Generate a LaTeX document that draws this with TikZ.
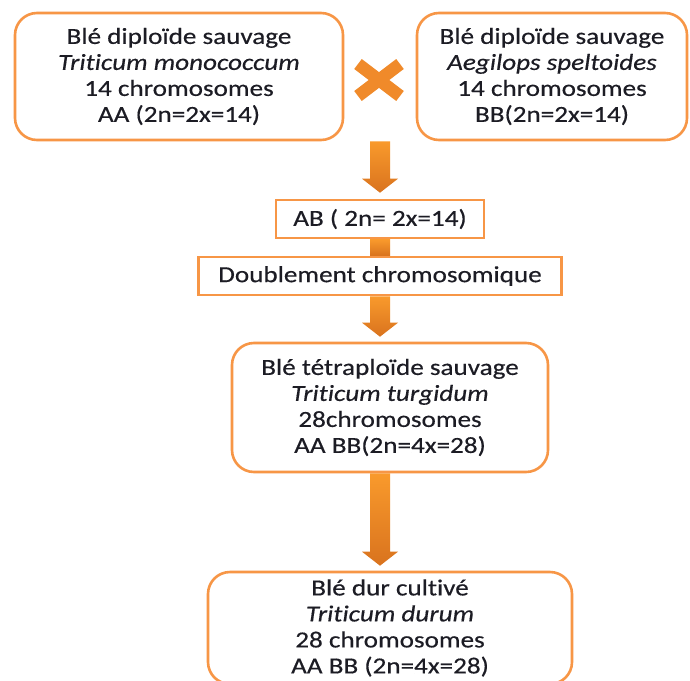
\documentclass[tikz,border=0pt]{standalone}
\usepackage{fontspec}
\setmainfont[FakeStretch=1.18, FakeBold=0.4, Ligatures=NoCommon]{Carlito}
\usetikzlibrary{calc}
\definecolor{boxorange}{HTML}{F79646}
\definecolor{arrtop}{HTML}{F99A2C}
\definecolor{arrbot}{HTML}{D9731E}
\definecolor{crosscol}{HTML}{F08A2A}
\definecolor{txt}{HTML}{1C1C24}
\newcommand\flowarrow[2]{\path[blockarrow] let \p1=#1, \p2=#2 in
  (\x1-10pt,\y1) -- (\x1+10pt,\y1) -- (\x1+10pt,\y2+14pt) -- (\x1+18pt,\y2+14pt)
  -- (\x1,\y2) -- (\x1-18pt,\y2+14pt) -- (\x1-10pt,\y2+14pt) -- cycle;}
\begin{document}
\begin{tikzpicture}[x=1pt,y=-1pt,
  lbl/.style={font=\fontsize{23}{26}\selectfont, text=txt, align=center, inner sep=0pt},
  rbox/.style={lbl, draw=boxorange, line width=2.6pt, rounded corners=22pt, fill=white},
  sbox/.style={lbl, draw=boxorange, line width=2.6pt, fill=white},
  blockarrow/.style={top color=arrtop, bottom color=arrbot, draw=none}]
\clip (0,0) rectangle (690,680);
\fill[white] (0,0) rectangle (690,680);

\node[rbox, minimum width=328pt, minimum height=127pt] (wa) at (179,76.5)
  {Blé diploïde sauvage\\\textit{Triticum monococcum}\\14 chromosomes\\AA (2n=2x=14)};
\node[rbox, minimum width=270pt, minimum height=127pt] (wb) at (552,76.5)
  {Blé diploïde sauvage\\\textit{Aegilops speltoides}\\14 chromosomes\\BB(2n=2x=14)};
\node[sbox, minimum width=208pt, minimum height=38pt] (ab) at (380,219)
  {AB ( 2n= 2x=14)};
\node[sbox, minimum width=363pt, minimum height=38pt] (doub) at (380,276)
  {Doublement chromosomique};
\node[rbox, minimum width=316pt, minimum height=129pt] (tetra) at (390,407.5)
  {Blé tétraploïde sauvage\\\textit{Triticum turgidum}\\28chromosomes\\AA BB(2n=4x=28)};
\node[rbox, minimum width=364pt, minimum height=112pt] (durum) at (390,628)
  {Blé dur cultivé\\\textit{Triticum durum}\\28 chromosomes\\AA BB (2n=4x=28)};

% cross symbol
\draw[crosscol, line width=12.5pt] (358,64) -- (400,96);
\draw[crosscol, line width=12.5pt] (358,96) -- (400,64);

% connectors
\flowarrow{($(wa.south -| ab.north)$)}{($(ab.north)+(0,-6)$)}
\path[blockarrow] ($(ab.south)+(-10,0)$) rectangle ($(doub.north)+(10,0)$);
\flowarrow{(doub.south)}{($(doub.south |- tetra.north)+(0,-5)$)}
\flowarrow{($(tetra.south -| doub.south)$)}{($(durum.north -| doub.south)+(0,-5)$)}
\end{tikzpicture}
\end{document}
